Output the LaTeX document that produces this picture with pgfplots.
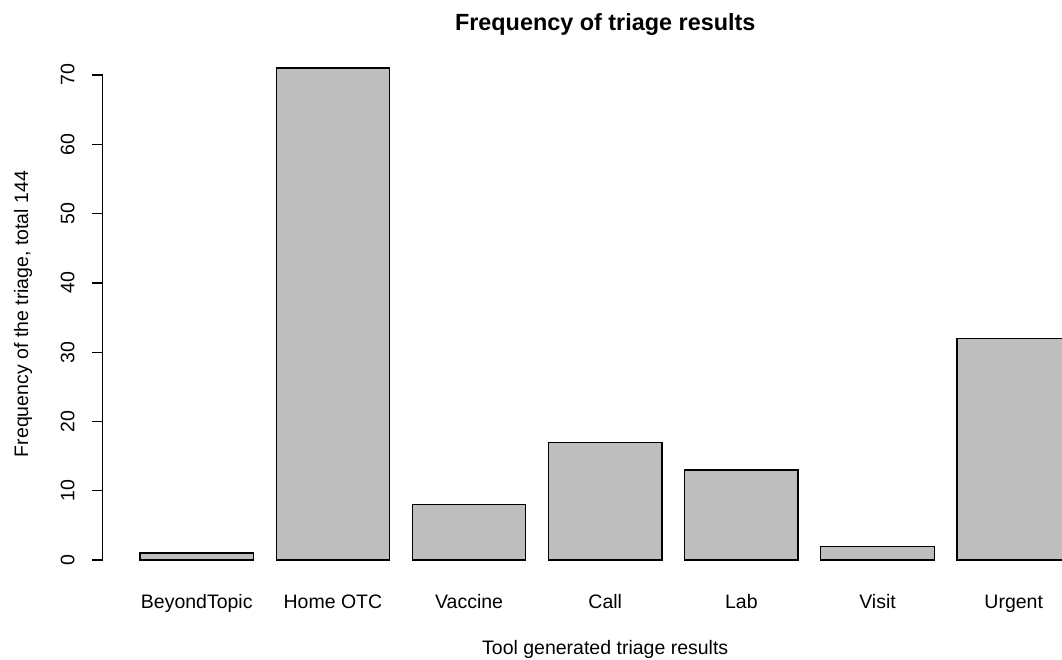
\documentclass[border=0pt]{standalone}
\usepackage{pgfplots}
\pgfplotsset{compat=1.18}
\usepackage{fontspec}
\setmainfont{Liberation Sans}

\definecolor{barfill}{RGB}{190,190,190}

\begin{document}
\begin{tikzpicture}[x=1pt,y=1pt]
\useasboundingbox (0,0) rectangle (1062,659);
\begin{axis}[
  at={(102.8pt,79.3pt)}, anchor=south west,
  scale only axis, width=1004.9pt, height=531.3pt,
  xmin=-0.128, xmax=8.728, ymin=-2.84, ymax=73.84,
  clip=false,
  axis x line*=bottom, axis y line*=left,
  x axis line style={draw=none}, y axis line style={draw=none},
  xtick={0.7,1.9,3.1,4.3,5.5,6.7,7.9},
  xticklabels={BeyondTopic,Home OTC,Vaccine,Call,Lab,Visit,Urgent},
  xtick style={draw=none},
  ytick={0,10,...,70},
  tick align=outside, major tick length=10.5pt,
  ytick style={black, line width=1.3pt},
  /pgf/number format/assume math mode=true,
  tick label style={font=\fontsize{19.5}{23}\selectfont, text=black},
  xticklabel style={anchor=base, inner sep=0pt},
  xticklabel shift=18pt,
  yticklabel style={rotate=90, anchor=base, inner sep=0pt},
  yticklabel shift=17.8pt,
  every axis title shift=0pt,
  title={Frequency of triage results},
  title style={at={(axis description cs:0.5,1.0346)}, anchor=base,
    font=\bfseries\fontsize{23.4}{28}\selectfont, inner sep=0pt},
  xlabel={Tool generated triage results},
  xlabel style={at={(axis description cs:0.5,-0.14135)}, anchor=base,
    font=\fontsize{19.5}{23}\selectfont, inner sep=0pt},
  ylabel={Frequency of the triage, total 144},
  ylabel style={at={(axis description cs:-0.0744,0.5)}, anchor=base, rotate=0,
    font=\fontsize{19.5}{23}\selectfont, inner sep=0pt},
]
\addplot[ybar, bar width=1, fill=barfill, draw=black, line width=1.3pt]
  coordinates {(0.7,1) (1.9,71) (3.1,8) (4.3,17) (5.5,13) (6.7,2) (7.9,32)};
% y axis line spans only the tick range, 0 to 70
\draw[line width=1.3pt] (axis cs:-0.128,0) -- (axis cs:-0.128,70);
\end{axis}
\end{tikzpicture}
\end{document}
